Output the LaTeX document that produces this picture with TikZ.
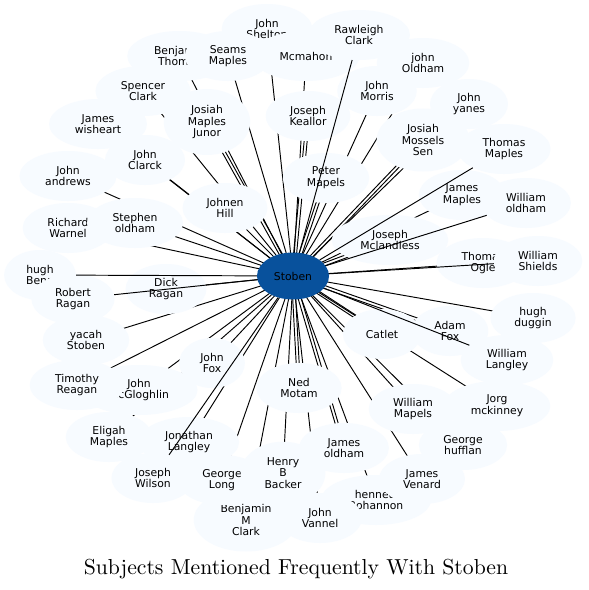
\documentclass[tikz,border=0pt]{standalone}
\usepackage{fontspec}
\newfontfamily\namefont{DejaVu Sans}
\newfontfamily\capfont[Extension=.otf]{lmroman10-regular}
\usetikzlibrary{calc,shapes.geometric}
\definecolor{leaf}{HTML}{F7FBFF}
\definecolor{hubblue}{HTML}{08519C}
\pgfdeclarelayer{paper}
\pgfdeclarelayer{wires}
\pgfsetlayers{paper,wires,main}
% two parallel ties between the hub and one name
\newcommand{\twinedge}[1]{%
  \draw[tie] ($(stoben.center)!1.5pt!90:(#1.center)$) -- ($(#1.center)!1.5pt!-90:(stoben.center)$);
  \draw[tie] ($(stoben.center)!1.5pt!-90:(#1.center)$) -- ($(#1.center)!1.5pt!90:(stoben.center)$);}

\begin{document}
\begin{tikzpicture}[x=1pt, y=-1pt,
  kin/.style={ellipse, fill=leaf, inner xsep=11.5pt, inner ysep=6.4pt, minimum height=50pt,
    align=center, font=\namefont\fontsize{10.8}{11.7}\selectfont},
  hub/.style={ellipse, fill=hubblue, inner sep=0pt, minimum width=72pt, minimum height=47pt,
    font=\namefont\fontsize{10.8}{11.7}\selectfont},
  tie/.style={line width=0.95pt, black}
]
  \begin{pgfonlayer}{paper}
    \fill[white] (0,0) rectangle (589,590);
  \end{pgfonlayer}
  \useasboundingbox (0,0) rectangle (589,590);

  % Top
  \node[kin] (benthomas) at (179.5,56) {Benjamin\\Thomas};
  \node[kin] (shelton) at (267,29) {John\\Shelton};
  \node[kin] (mcmahon) at (306,56) {Mcmahon};
  \node[kin] (seams) at (228,56) {Seams\\Maples};
  \node[kin] (rawleigh) at (359,35) {Rawleigh\\Clark};
  \node[kin] (joldham) at (423,63) {john\\Oldham};
  \node[kin] (spencer) at (143,91) {Spencer\\Clark};
  \node[kin] (morris) at (377,91) {John\\Morris};
  \node[kin] (yanes) at (469,104) {John\\yanes};
  \node[kin] (wisheart) at (98,124) {James\\wisheart};
  \node[kin] (junor) at (207,122) {Josiah\\Maples\\Junor};
  \node[kin] (keallor) at (308,116) {Joseph\\Keallor};
  \node[kin] (mossels) at (423,140) {Josiah\\Mossels\\Sen};
  \node[kin] (tmaples) at (504,149) {Thomas\\Maples};
  \node[kin] (clarck) at (145,160) {John\\Clarck};
  \node[kin] (andrews) at (68,176) {John\\andrews};
  \node[kin] (peter) at (326,178) {Peter\\Mapels};
  \node[kin] (jmaples) at (462,195) {James\\Maples};
  \node[kin] (woldham) at (526,203) {William\\oldham};
  \node[kin] (johnen) at (225,208) {Johnen\\Hill};
  % Middle
  \node[kin] (warnel) at (68,228) {Richard\\Warnel};
  \node[kin] (stephen) at (135,223) {Stephen\\oldham};
  \node[kin] (mclandless) at (390,240) {Joseph\\Mclandless};
  \node[kin] (ogle) at (483,263) {Thomas\\Ogle};
  \node[kin] (shields) at (538,261) {William\\Shields};
  \node[kin] (hughben) at (40,275) {hugh\\Benn};
  \node[kin] (robert) at (73,299) {Robert\\Ragan};
  \node[kin] (dick) at (166,289) {Dick\\Ragan};
  \node[kin] (duggin) at (533,318) {hugh\\duggin};
  \node[kin] (catlet) at (382,334) {Catlet};
  \node[kin] (adam) at (450,331) {Adam\\Fox};
  \node[kin] (yacah) at (86,340) {yacah\\Stoben};
  \node[kin] (langley) at (507,360) {William\\Langley};
  \node[kin] (johnfox) at (212,363) {John\\Fox};
  \node[kin] (ned) at (299,388) {Ned\\Motam};
  % Bottom
  \node[kin] (mcgloghlin) at (139,390) {John\\McGloghlin};
  \node[kin] (timothy) at (77,385) {Timothy\\Reagan};
  \node[kin] (wmapels) at (413,409) {William\\Mapels};
  \node[kin] (jorg) at (497,406) {Jorg\\mckinney};
  \node[kin] (eligah) at (109,437) {Eligah\\Maples};
  \node[kin] (jonathan) at (189,442) {Jonathan\\Langley};
  \node[kin] (jamesold) at (344,448) {James\\oldham};
  \node[kin] (hufflan) at (463,445) {George\\hufflan};
  \node[kin] (wilson) at (153,478) {Joseph\\Wilson};
  \node[kin] (bmclark) at (246,520) {Benjamin\\M\\Clark};
  \node[kin] (glong) at (222,480) {George\\Long};
  \node[kin] (henry) at (283,473) {Henry\\B\\Backer};
  \node[kin] (bohannon) at (376,500) {hennett\\Bohannon};
  \node[kin] (venard) at (422,479) {James\\Venard};
  \node[kin] (vannel) at (320,518) {John\\Vannel};

  \node[hub] (stoben) at (293,276) {Stoben};

  % Ties under the names
  \begin{pgfonlayer}{wires}
    \foreach \n in {shelton, benthomas, seams, mcmahon, joldham, spencer, morris, yanes,
      wisheart, clarck, andrews, jmaples, johnen, stephen, warnel, ogle, dick, duggin,
      yacah, johnfox, timothy, mcgloghlin, wmapels, jorg, eligah, jonathan, hufflan,
      glong, henry, venard, bohannon, bmclark, vannel}
      \draw[tie] (stoben.center) -- (\n.center);
    \foreach \n in {junor, keallor, mossels, adam, jamesold, peter, mclandless, catlet, ned}
      {\twinedge{\n}}
  \end{pgfonlayer}

  % Ties over the names
  \foreach \n in {rawleigh, woldham, robert, wilson, langley, shields, tmaples, hughben}
    \draw[tie] (stoben) -- (\n);

  \node (caption) at (296,569) {\capfont\fontsize{21.7}{24}\selectfont Subjects Mentioned Frequently With Stoben};
\end{tikzpicture}
\end{document}
